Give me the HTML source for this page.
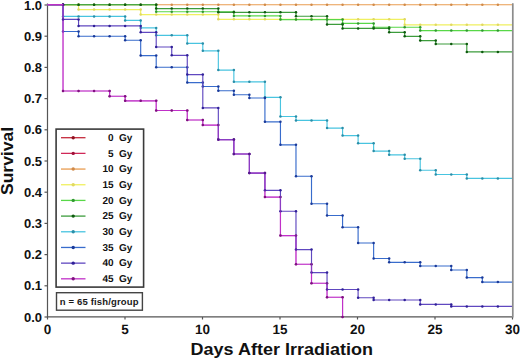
<!DOCTYPE html>
<html><head><meta charset="utf-8"><style>
html,body{margin:0;padding:0;background:#fff;}
body{width:520px;height:359px;overflow:hidden;}
svg{display:block;font-family:"Liberation Sans",sans-serif;font-weight:bold;}
</style></head><body>
<svg width="520" height="359" viewBox="0 0 520 359">
<rect width="520" height="359" fill="#fff"/>
<g stroke="#555" stroke-width="1.2" fill="none">
<line x1="47.5" y1="3.5" x2="47.5" y2="317"/>
<line x1="46.9" y1="316.9" x2="512.6" y2="316.9"/>
<line x1="44.5" y1="317.00" x2="47.5" y2="317.00"/><line x1="44.5" y1="285.80" x2="47.5" y2="285.80"/><line x1="44.5" y1="254.60" x2="47.5" y2="254.60"/><line x1="44.5" y1="223.40" x2="47.5" y2="223.40"/><line x1="44.5" y1="192.20" x2="47.5" y2="192.20"/><line x1="44.5" y1="161.00" x2="47.5" y2="161.00"/><line x1="44.5" y1="129.80" x2="47.5" y2="129.80"/><line x1="44.5" y1="98.60" x2="47.5" y2="98.60"/><line x1="44.5" y1="67.40" x2="47.5" y2="67.40"/><line x1="44.5" y1="36.20" x2="47.5" y2="36.20"/><line x1="44.5" y1="5.00" x2="47.5" y2="5.00"/>
<line x1="47.50" y1="317" x2="47.50" y2="319.5"/><line x1="125.00" y1="317" x2="125.00" y2="319.5"/><line x1="202.50" y1="317" x2="202.50" y2="319.5"/><line x1="280.00" y1="317" x2="280.00" y2="319.5"/><line x1="357.50" y1="317" x2="357.50" y2="319.5"/><line x1="435.00" y1="317" x2="435.00" y2="319.5"/><line x1="512.50" y1="317" x2="512.50" y2="319.5"/>
</g>
<defs><clipPath id="pc"><rect x="0" y="0" width="513" height="359"/></clipPath></defs>
<g clip-path="url(#pc)">
<path d="M47.50 4.70 L63.03 4.70 L78.56 4.70 L94.09 4.70 L109.62 4.70 L125.15 4.70 L140.68 4.70 L156.21 4.70 L171.74 4.70 L187.27 4.70 L202.80 4.70 L218.33 4.70 L233.86 4.70 L249.39 4.70 L264.92 4.70 L280.45 4.70 L295.98 4.70 L311.51 4.70 L327.04 4.70 L342.57 4.70 L358.10 4.70 L373.63 4.70 L389.16 4.70 L404.69 4.70 L420.22 4.70 L435.75 4.70 L451.28 4.70 L466.81 4.70 L482.34 4.70 L497.87 4.70 L513.40 4.70" fill="none" stroke="#e99c50" stroke-width="1.15"/>
<g fill="#d08a48"><circle cx="63.03" cy="4.70" r="1.25"/><circle cx="78.56" cy="4.70" r="1.25"/><circle cx="94.09" cy="4.70" r="1.25"/><circle cx="109.62" cy="4.70" r="1.25"/><circle cx="125.15" cy="4.70" r="1.25"/><circle cx="140.68" cy="4.70" r="1.25"/><circle cx="156.21" cy="4.70" r="1.25"/><circle cx="171.74" cy="4.70" r="1.25"/><circle cx="187.27" cy="4.70" r="1.25"/><circle cx="202.80" cy="4.70" r="1.25"/><circle cx="218.33" cy="4.70" r="1.25"/><circle cx="233.86" cy="4.70" r="1.25"/><circle cx="249.39" cy="4.70" r="1.25"/><circle cx="264.92" cy="4.70" r="1.25"/><circle cx="280.45" cy="4.70" r="1.25"/><circle cx="295.98" cy="4.70" r="1.25"/><circle cx="311.51" cy="4.70" r="1.25"/><circle cx="327.04" cy="4.70" r="1.25"/><circle cx="342.57" cy="4.70" r="1.25"/><circle cx="358.10" cy="4.70" r="1.25"/><circle cx="373.63" cy="4.70" r="1.25"/><circle cx="389.16" cy="4.70" r="1.25"/><circle cx="404.69" cy="4.70" r="1.25"/><circle cx="420.22" cy="4.70" r="1.25"/><circle cx="435.75" cy="4.70" r="1.25"/><circle cx="451.28" cy="4.70" r="1.25"/><circle cx="466.81" cy="4.70" r="1.25"/><circle cx="482.34" cy="4.70" r="1.25"/><circle cx="497.87" cy="4.70" r="1.25"/><circle cx="513.40" cy="4.70" r="1.25"/></g>
<path d="M47.50 4.70 L63.03 4.70 L78.56 4.70 L78.56 9.60 L94.09 9.60 L109.62 9.60 L125.15 9.60 L140.68 9.60 L140.68 14.60 L156.21 14.60 L171.74 14.60 L187.27 14.60 L202.80 14.60 L218.33 14.60 L218.33 19.30 L233.86 19.30 L249.39 19.30 L264.92 19.30 L280.45 19.30 L295.98 19.30 L311.51 19.30 L327.04 19.30 L342.57 19.30 L358.10 19.30 L373.63 19.30 L389.16 19.30 L404.69 19.30 L404.69 24.80 L420.22 24.80 L435.75 24.80 L451.28 24.80 L466.81 24.80 L482.34 24.80 L497.87 24.80 L513.40 24.80" fill="none" stroke="#f0f060" stroke-width="1.15"/>
<g fill="#e0d860"><circle cx="63.03" cy="4.70" r="1.25"/><circle cx="78.56" cy="4.70" r="1.25"/><circle cx="78.56" cy="9.60" r="1.25"/><circle cx="94.09" cy="9.60" r="1.25"/><circle cx="109.62" cy="9.60" r="1.25"/><circle cx="125.15" cy="9.60" r="1.25"/><circle cx="140.68" cy="9.60" r="1.25"/><circle cx="140.68" cy="14.60" r="1.25"/><circle cx="156.21" cy="14.60" r="1.25"/><circle cx="171.74" cy="14.60" r="1.25"/><circle cx="187.27" cy="14.60" r="1.25"/><circle cx="202.80" cy="14.60" r="1.25"/><circle cx="218.33" cy="14.60" r="1.25"/><circle cx="218.33" cy="19.30" r="1.25"/><circle cx="233.86" cy="19.30" r="1.25"/><circle cx="249.39" cy="19.30" r="1.25"/><circle cx="264.92" cy="19.30" r="1.25"/><circle cx="280.45" cy="19.30" r="1.25"/><circle cx="295.98" cy="19.30" r="1.25"/><circle cx="311.51" cy="19.30" r="1.25"/><circle cx="327.04" cy="19.30" r="1.25"/><circle cx="342.57" cy="19.30" r="1.25"/><circle cx="358.10" cy="19.30" r="1.25"/><circle cx="373.63" cy="19.30" r="1.25"/><circle cx="389.16" cy="19.30" r="1.25"/><circle cx="404.69" cy="19.30" r="1.25"/><circle cx="404.69" cy="24.80" r="1.25"/><circle cx="420.22" cy="24.80" r="1.25"/><circle cx="435.75" cy="24.80" r="1.25"/><circle cx="451.28" cy="24.80" r="1.25"/><circle cx="466.81" cy="24.80" r="1.25"/><circle cx="482.34" cy="24.80" r="1.25"/><circle cx="497.87" cy="24.80" r="1.25"/><circle cx="513.40" cy="24.80" r="1.25"/></g>
<path d="M47.50 4.70 L63.03 4.70 L78.56 4.70 L94.09 4.70 L109.62 4.70 L125.15 4.70 L140.68 4.70 L156.21 4.70 L156.21 11.70 L171.74 11.70 L187.27 11.70 L202.80 11.70 L218.33 11.70 L233.86 11.70 L233.86 15.90 L249.39 15.90 L264.92 15.90 L280.45 15.90 L280.45 19.60 L295.98 19.60 L311.51 19.60 L327.04 19.60 L342.57 19.60 L342.57 23.40 L358.10 23.40 L373.63 23.40 L373.63 27.20 L389.16 27.20 L404.69 27.20 L420.22 27.20 L420.22 30.60 L435.75 30.60 L451.28 30.60 L466.81 30.60 L482.34 30.60 L497.87 30.60 L513.40 30.60" fill="none" stroke="#58d848" stroke-width="1.15"/>
<g fill="#309830"><circle cx="63.03" cy="4.70" r="1.25"/><circle cx="78.56" cy="4.70" r="1.25"/><circle cx="94.09" cy="4.70" r="1.25"/><circle cx="109.62" cy="4.70" r="1.25"/><circle cx="125.15" cy="4.70" r="1.25"/><circle cx="140.68" cy="4.70" r="1.25"/><circle cx="156.21" cy="4.70" r="1.25"/><circle cx="156.21" cy="11.70" r="1.25"/><circle cx="171.74" cy="11.70" r="1.25"/><circle cx="187.27" cy="11.70" r="1.25"/><circle cx="202.80" cy="11.70" r="1.25"/><circle cx="218.33" cy="11.70" r="1.25"/><circle cx="233.86" cy="11.70" r="1.25"/><circle cx="233.86" cy="15.90" r="1.25"/><circle cx="249.39" cy="15.90" r="1.25"/><circle cx="264.92" cy="15.90" r="1.25"/><circle cx="280.45" cy="15.90" r="1.25"/><circle cx="280.45" cy="19.60" r="1.25"/><circle cx="295.98" cy="19.60" r="1.25"/><circle cx="311.51" cy="19.60" r="1.25"/><circle cx="327.04" cy="19.60" r="1.25"/><circle cx="342.57" cy="19.60" r="1.25"/><circle cx="342.57" cy="23.40" r="1.25"/><circle cx="358.10" cy="23.40" r="1.25"/><circle cx="373.63" cy="23.40" r="1.25"/><circle cx="373.63" cy="27.20" r="1.25"/><circle cx="389.16" cy="27.20" r="1.25"/><circle cx="404.69" cy="27.20" r="1.25"/><circle cx="420.22" cy="27.20" r="1.25"/><circle cx="420.22" cy="30.60" r="1.25"/><circle cx="435.75" cy="30.60" r="1.25"/><circle cx="451.28" cy="30.60" r="1.25"/><circle cx="466.81" cy="30.60" r="1.25"/><circle cx="482.34" cy="30.60" r="1.25"/><circle cx="497.87" cy="30.60" r="1.25"/><circle cx="513.40" cy="30.60" r="1.25"/></g>
<path d="M47.50 4.70 L63.03 4.70 L78.56 4.70 L94.09 4.70 L109.62 4.70 L125.15 4.70 L140.68 4.70 L156.21 4.70 L156.21 8.60 L171.74 8.60 L187.27 8.60 L202.80 8.60 L218.33 8.60 L218.33 12.30 L233.86 12.30 L249.39 12.30 L264.92 12.30 L280.45 12.30 L295.98 12.30 L295.98 16.20 L311.51 16.20 L327.04 16.20 L327.04 24.40 L342.57 24.40 L342.57 28.40 L358.10 28.40 L373.63 28.40 L389.16 28.40 L389.16 32.30 L404.69 32.30 L404.69 36.30 L420.22 36.30 L420.22 40.60 L435.75 40.60 L435.75 44.00 L451.28 44.00 L466.81 44.00 L466.81 51.90 L482.34 51.90 L497.87 51.90 L513.40 51.90" fill="none" stroke="#3c9c3c" stroke-width="1.15"/>
<g fill="#0e5a0e"><circle cx="63.03" cy="4.70" r="1.25"/><circle cx="78.56" cy="4.70" r="1.25"/><circle cx="94.09" cy="4.70" r="1.25"/><circle cx="109.62" cy="4.70" r="1.25"/><circle cx="125.15" cy="4.70" r="1.25"/><circle cx="140.68" cy="4.70" r="1.25"/><circle cx="156.21" cy="4.70" r="1.25"/><circle cx="156.21" cy="8.60" r="1.25"/><circle cx="171.74" cy="8.60" r="1.25"/><circle cx="187.27" cy="8.60" r="1.25"/><circle cx="202.80" cy="8.60" r="1.25"/><circle cx="218.33" cy="8.60" r="1.25"/><circle cx="218.33" cy="12.30" r="1.25"/><circle cx="233.86" cy="12.30" r="1.25"/><circle cx="249.39" cy="12.30" r="1.25"/><circle cx="264.92" cy="12.30" r="1.25"/><circle cx="280.45" cy="12.30" r="1.25"/><circle cx="295.98" cy="12.30" r="1.25"/><circle cx="295.98" cy="16.20" r="1.25"/><circle cx="311.51" cy="16.20" r="1.25"/><circle cx="327.04" cy="16.20" r="1.25"/><circle cx="327.04" cy="24.40" r="1.25"/><circle cx="342.57" cy="24.40" r="1.25"/><circle cx="342.57" cy="28.40" r="1.25"/><circle cx="358.10" cy="28.40" r="1.25"/><circle cx="373.63" cy="28.40" r="1.25"/><circle cx="389.16" cy="28.40" r="1.25"/><circle cx="389.16" cy="32.30" r="1.25"/><circle cx="404.69" cy="32.30" r="1.25"/><circle cx="404.69" cy="36.30" r="1.25"/><circle cx="420.22" cy="36.30" r="1.25"/><circle cx="420.22" cy="40.60" r="1.25"/><circle cx="435.75" cy="40.60" r="1.25"/><circle cx="435.75" cy="44.00" r="1.25"/><circle cx="451.28" cy="44.00" r="1.25"/><circle cx="466.81" cy="44.00" r="1.25"/><circle cx="466.81" cy="51.90" r="1.25"/><circle cx="482.34" cy="51.90" r="1.25"/><circle cx="497.87" cy="51.90" r="1.25"/><circle cx="513.40" cy="51.90" r="1.25"/></g>
<path d="M47.50 4.70 L63.03 4.70 L63.03 16.40 L78.56 16.40 L94.09 16.40 L109.62 16.40 L125.15 16.40 L125.15 20.40 L140.68 20.40 L140.68 27.90 L156.21 27.90 L156.21 35.30 L171.74 35.30 L187.27 35.30 L187.27 43.40 L202.80 43.40 L202.80 50.80 L218.33 50.80 L218.33 70.10 L233.86 70.10 L233.86 81.80 L249.39 81.80 L264.92 81.80 L264.92 97.30 L280.45 97.30 L280.45 116.50 L295.98 116.50 L295.98 120.40 L311.51 120.40 L327.04 120.40 L327.04 128.10 L342.57 128.10 L342.57 135.60 L358.10 135.60 L358.10 143.30 L373.63 143.30 L373.63 151.10 L389.16 151.10 L389.16 154.80 L404.69 154.80 L404.69 158.70 L420.22 158.70 L420.22 170.20 L435.75 170.20 L435.75 174.50 L451.28 174.50 L466.81 174.50 L466.81 178.40 L482.34 178.40 L497.87 178.40 L513.40 178.40" fill="none" stroke="#48c4e0" stroke-width="1.15"/>
<g fill="#2a8ea8"><circle cx="63.03" cy="4.70" r="1.25"/><circle cx="63.03" cy="16.40" r="1.25"/><circle cx="78.56" cy="16.40" r="1.25"/><circle cx="94.09" cy="16.40" r="1.25"/><circle cx="109.62" cy="16.40" r="1.25"/><circle cx="125.15" cy="16.40" r="1.25"/><circle cx="125.15" cy="20.40" r="1.25"/><circle cx="140.68" cy="20.40" r="1.25"/><circle cx="140.68" cy="27.90" r="1.25"/><circle cx="156.21" cy="27.90" r="1.25"/><circle cx="156.21" cy="35.30" r="1.25"/><circle cx="171.74" cy="35.30" r="1.25"/><circle cx="187.27" cy="35.30" r="1.25"/><circle cx="187.27" cy="43.40" r="1.25"/><circle cx="202.80" cy="43.40" r="1.25"/><circle cx="202.80" cy="50.80" r="1.25"/><circle cx="218.33" cy="50.80" r="1.25"/><circle cx="218.33" cy="70.10" r="1.25"/><circle cx="233.86" cy="70.10" r="1.25"/><circle cx="233.86" cy="81.80" r="1.25"/><circle cx="249.39" cy="81.80" r="1.25"/><circle cx="264.92" cy="81.80" r="1.25"/><circle cx="264.92" cy="97.30" r="1.25"/><circle cx="280.45" cy="97.30" r="1.25"/><circle cx="280.45" cy="116.50" r="1.25"/><circle cx="295.98" cy="116.50" r="1.25"/><circle cx="295.98" cy="120.40" r="1.25"/><circle cx="311.51" cy="120.40" r="1.25"/><circle cx="327.04" cy="120.40" r="1.25"/><circle cx="327.04" cy="128.10" r="1.25"/><circle cx="342.57" cy="128.10" r="1.25"/><circle cx="342.57" cy="135.60" r="1.25"/><circle cx="358.10" cy="135.60" r="1.25"/><circle cx="358.10" cy="143.30" r="1.25"/><circle cx="373.63" cy="143.30" r="1.25"/><circle cx="373.63" cy="151.10" r="1.25"/><circle cx="389.16" cy="151.10" r="1.25"/><circle cx="389.16" cy="154.80" r="1.25"/><circle cx="404.69" cy="154.80" r="1.25"/><circle cx="404.69" cy="158.70" r="1.25"/><circle cx="420.22" cy="158.70" r="1.25"/><circle cx="420.22" cy="170.20" r="1.25"/><circle cx="435.75" cy="170.20" r="1.25"/><circle cx="435.75" cy="174.50" r="1.25"/><circle cx="451.28" cy="174.50" r="1.25"/><circle cx="466.81" cy="174.50" r="1.25"/><circle cx="466.81" cy="178.40" r="1.25"/><circle cx="482.34" cy="178.40" r="1.25"/><circle cx="497.87" cy="178.40" r="1.25"/><circle cx="513.40" cy="178.40" r="1.25"/></g>
<path d="M47.50 4.70 L63.03 4.70 L63.03 31.50 L78.56 31.50 L78.56 36.20 L94.09 36.20 L109.62 36.20 L125.15 36.20 L125.15 40.20 L140.68 40.20 L140.68 55.60 L156.21 55.60 L156.21 67.20 L171.74 67.20 L187.27 67.20 L187.27 82.60 L202.80 82.60 L202.80 86.50 L218.33 86.50 L218.33 90.70 L233.86 90.70 L233.86 94.70 L249.39 94.70 L249.39 98.00 L264.92 98.00 L264.92 121.80 L280.45 121.80 L280.45 144.80 L295.98 144.80 L295.98 176.20 L311.51 176.20 L311.51 203.70 L327.04 203.70 L327.04 215.50 L342.57 215.50 L342.57 227.20 L358.10 227.20 L358.10 243.00 L373.63 243.00 L373.63 258.50 L389.16 258.50 L389.16 262.30 L404.69 262.30 L420.22 262.30 L420.22 266.00 L435.75 266.00 L451.28 266.00 L451.28 270.00 L466.81 270.00 L466.81 277.60 L482.34 277.60 L482.34 282.10 L497.87 282.10 L513.40 282.10" fill="none" stroke="#386ccc" stroke-width="1.15"/>
<g fill="#1a3a9a"><circle cx="63.03" cy="4.70" r="1.25"/><circle cx="63.03" cy="31.50" r="1.25"/><circle cx="78.56" cy="31.50" r="1.25"/><circle cx="78.56" cy="36.20" r="1.25"/><circle cx="94.09" cy="36.20" r="1.25"/><circle cx="109.62" cy="36.20" r="1.25"/><circle cx="125.15" cy="36.20" r="1.25"/><circle cx="125.15" cy="40.20" r="1.25"/><circle cx="140.68" cy="40.20" r="1.25"/><circle cx="140.68" cy="55.60" r="1.25"/><circle cx="156.21" cy="55.60" r="1.25"/><circle cx="156.21" cy="67.20" r="1.25"/><circle cx="171.74" cy="67.20" r="1.25"/><circle cx="187.27" cy="67.20" r="1.25"/><circle cx="187.27" cy="82.60" r="1.25"/><circle cx="202.80" cy="82.60" r="1.25"/><circle cx="202.80" cy="86.50" r="1.25"/><circle cx="218.33" cy="86.50" r="1.25"/><circle cx="218.33" cy="90.70" r="1.25"/><circle cx="233.86" cy="90.70" r="1.25"/><circle cx="233.86" cy="94.70" r="1.25"/><circle cx="249.39" cy="94.70" r="1.25"/><circle cx="249.39" cy="98.00" r="1.25"/><circle cx="264.92" cy="98.00" r="1.25"/><circle cx="264.92" cy="121.80" r="1.25"/><circle cx="280.45" cy="121.80" r="1.25"/><circle cx="280.45" cy="144.80" r="1.25"/><circle cx="295.98" cy="144.80" r="1.25"/><circle cx="295.98" cy="176.20" r="1.25"/><circle cx="311.51" cy="176.20" r="1.25"/><circle cx="311.51" cy="203.70" r="1.25"/><circle cx="327.04" cy="203.70" r="1.25"/><circle cx="327.04" cy="215.50" r="1.25"/><circle cx="342.57" cy="215.50" r="1.25"/><circle cx="342.57" cy="227.20" r="1.25"/><circle cx="358.10" cy="227.20" r="1.25"/><circle cx="358.10" cy="243.00" r="1.25"/><circle cx="373.63" cy="243.00" r="1.25"/><circle cx="373.63" cy="258.50" r="1.25"/><circle cx="389.16" cy="258.50" r="1.25"/><circle cx="389.16" cy="262.30" r="1.25"/><circle cx="404.69" cy="262.30" r="1.25"/><circle cx="420.22" cy="262.30" r="1.25"/><circle cx="420.22" cy="266.00" r="1.25"/><circle cx="435.75" cy="266.00" r="1.25"/><circle cx="451.28" cy="266.00" r="1.25"/><circle cx="451.28" cy="270.00" r="1.25"/><circle cx="466.81" cy="270.00" r="1.25"/><circle cx="466.81" cy="277.60" r="1.25"/><circle cx="482.34" cy="277.60" r="1.25"/><circle cx="482.34" cy="282.10" r="1.25"/><circle cx="497.87" cy="282.10" r="1.25"/><circle cx="513.40" cy="282.10" r="1.25"/></g>
<path d="M47.50 4.70 L63.03 4.70 L63.03 91.00 L78.56 91.00 L94.09 91.00 L109.62 91.00 L109.62 96.20 L125.15 96.20 L125.15 100.80 L140.68 100.80 L156.21 100.80 L156.21 110.50 L171.74 110.50 L187.27 110.50 L187.27 120.00 L202.80 120.00 L202.80 125.10 L218.33 125.10 L218.33 139.60 L233.86 139.60 L233.86 154.00 L249.39 154.00 L249.39 173.10 L264.92 173.10 L264.92 197.10 L280.45 197.10 L280.45 235.60 L295.98 235.60 L295.98 264.20 L311.51 264.20 L311.51 283.20 L327.04 283.20 L327.04 297.20 L342.57 297.20 L342.57 317.00" fill="none" stroke="#c030c8" stroke-width="1.15"/>
<g fill="#801080"><circle cx="63.03" cy="4.70" r="1.25"/><circle cx="63.03" cy="91.00" r="1.25"/><circle cx="78.56" cy="91.00" r="1.25"/><circle cx="94.09" cy="91.00" r="1.25"/><circle cx="109.62" cy="91.00" r="1.25"/><circle cx="109.62" cy="96.20" r="1.25"/><circle cx="125.15" cy="96.20" r="1.25"/><circle cx="125.15" cy="100.80" r="1.25"/><circle cx="140.68" cy="100.80" r="1.25"/><circle cx="156.21" cy="100.80" r="1.25"/><circle cx="156.21" cy="110.50" r="1.25"/><circle cx="171.74" cy="110.50" r="1.25"/><circle cx="187.27" cy="110.50" r="1.25"/><circle cx="187.27" cy="120.00" r="1.25"/><circle cx="202.80" cy="120.00" r="1.25"/><circle cx="202.80" cy="125.10" r="1.25"/><circle cx="218.33" cy="125.10" r="1.25"/><circle cx="218.33" cy="139.60" r="1.25"/><circle cx="233.86" cy="139.60" r="1.25"/><circle cx="233.86" cy="154.00" r="1.25"/><circle cx="249.39" cy="154.00" r="1.25"/><circle cx="249.39" cy="173.10" r="1.25"/><circle cx="264.92" cy="173.10" r="1.25"/><circle cx="264.92" cy="197.10" r="1.25"/><circle cx="280.45" cy="197.10" r="1.25"/><circle cx="280.45" cy="235.60" r="1.25"/><circle cx="295.98" cy="235.60" r="1.25"/><circle cx="295.98" cy="264.20" r="1.25"/><circle cx="311.51" cy="264.20" r="1.25"/><circle cx="311.51" cy="283.20" r="1.25"/><circle cx="327.04" cy="283.20" r="1.25"/><circle cx="327.04" cy="297.20" r="1.25"/><circle cx="342.57" cy="297.20" r="1.25"/><circle cx="342.57" cy="317.00" r="1.25"/></g>
<path d="M47.50 4.70 L63.03 4.70 L63.03 19.40 L78.56 19.40 L78.56 25.90 L94.09 25.90 L109.62 25.90 L125.15 25.90 L140.68 25.90 L140.68 32.30 L156.21 32.30 L156.21 47.00 L171.74 47.00 L171.74 55.30 L187.27 55.30 L187.27 74.60 L202.80 74.60 L202.80 107.90 L218.33 107.90 L218.33 139.60 L233.86 139.60 L233.86 154.00 L249.39 154.00 L249.39 173.10 L264.92 173.10 L264.92 190.30 L280.45 190.30 L280.45 211.20 L295.98 211.20 L295.98 249.60 L311.51 249.60 L311.51 272.60 L327.04 272.60 L327.04 289.50 L342.57 289.50 L358.10 289.50 L358.10 297.70 L373.63 297.70 L373.63 300.00 L389.16 300.00 L404.69 300.00 L420.22 300.00 L420.22 304.40 L435.75 304.40 L451.28 304.40 L451.28 306.40 L466.81 306.40 L482.34 306.40 L497.87 306.40 L513.40 306.40" fill="none" stroke="#6048c0" stroke-width="1.15"/>
<g fill="#302098"><circle cx="63.03" cy="4.70" r="1.25"/><circle cx="63.03" cy="19.40" r="1.25"/><circle cx="78.56" cy="19.40" r="1.25"/><circle cx="78.56" cy="25.90" r="1.25"/><circle cx="94.09" cy="25.90" r="1.25"/><circle cx="109.62" cy="25.90" r="1.25"/><circle cx="125.15" cy="25.90" r="1.25"/><circle cx="140.68" cy="25.90" r="1.25"/><circle cx="140.68" cy="32.30" r="1.25"/><circle cx="156.21" cy="32.30" r="1.25"/><circle cx="156.21" cy="47.00" r="1.25"/><circle cx="171.74" cy="47.00" r="1.25"/><circle cx="171.74" cy="55.30" r="1.25"/><circle cx="187.27" cy="55.30" r="1.25"/><circle cx="187.27" cy="74.60" r="1.25"/><circle cx="202.80" cy="74.60" r="1.25"/><circle cx="202.80" cy="107.90" r="1.25"/><circle cx="218.33" cy="107.90" r="1.25"/><circle cx="218.33" cy="139.60" r="1.25"/><circle cx="233.86" cy="139.60" r="1.25"/><circle cx="233.86" cy="154.00" r="1.25"/><circle cx="249.39" cy="154.00" r="1.25"/><circle cx="249.39" cy="173.10" r="1.25"/><circle cx="264.92" cy="173.10" r="1.25"/><circle cx="264.92" cy="190.30" r="1.25"/><circle cx="280.45" cy="190.30" r="1.25"/><circle cx="280.45" cy="211.20" r="1.25"/><circle cx="295.98" cy="211.20" r="1.25"/><circle cx="295.98" cy="249.60" r="1.25"/><circle cx="311.51" cy="249.60" r="1.25"/><circle cx="311.51" cy="272.60" r="1.25"/><circle cx="327.04" cy="272.60" r="1.25"/><circle cx="327.04" cy="289.50" r="1.25"/><circle cx="342.57" cy="289.50" r="1.25"/><circle cx="358.10" cy="289.50" r="1.25"/><circle cx="358.10" cy="297.70" r="1.25"/><circle cx="373.63" cy="297.70" r="1.25"/><circle cx="373.63" cy="300.00" r="1.25"/><circle cx="389.16" cy="300.00" r="1.25"/><circle cx="404.69" cy="300.00" r="1.25"/><circle cx="420.22" cy="300.00" r="1.25"/><circle cx="420.22" cy="304.40" r="1.25"/><circle cx="435.75" cy="304.40" r="1.25"/><circle cx="451.28" cy="304.40" r="1.25"/><circle cx="451.28" cy="306.40" r="1.25"/><circle cx="466.81" cy="306.40" r="1.25"/><circle cx="482.34" cy="306.40" r="1.25"/><circle cx="497.87" cy="306.40" r="1.25"/><circle cx="513.40" cy="306.40" r="1.25"/></g>
<g opacity="0.45"><path d="M47.50 4.70 L63.03 4.70 L63.03 91.00 L78.56 91.00 L94.09 91.00 L109.62 91.00 L109.62 96.20 L125.15 96.20 L125.15 100.80 L140.68 100.80 L156.21 100.80 L156.21 110.50 L171.74 110.50 L187.27 110.50 L187.27 120.00 L202.80 120.00 L202.80 125.10 L218.33 125.10 L218.33 139.60 L233.86 139.60 L233.86 154.00 L249.39 154.00 L249.39 173.10 L264.92 173.10 L264.92 197.10 L280.45 197.10 L280.45 235.60 L295.98 235.60 L295.98 264.20 L311.51 264.20 L311.51 283.20 L327.04 283.20 L327.04 297.20 L342.57 297.20 L342.57 317.00" fill="none" stroke="#c030c8" stroke-width="1.15"/>
<g fill="#801080"><circle cx="63.03" cy="4.70" r="1.25"/><circle cx="63.03" cy="91.00" r="1.25"/><circle cx="78.56" cy="91.00" r="1.25"/><circle cx="94.09" cy="91.00" r="1.25"/><circle cx="109.62" cy="91.00" r="1.25"/><circle cx="109.62" cy="96.20" r="1.25"/><circle cx="125.15" cy="96.20" r="1.25"/><circle cx="125.15" cy="100.80" r="1.25"/><circle cx="140.68" cy="100.80" r="1.25"/><circle cx="156.21" cy="100.80" r="1.25"/><circle cx="156.21" cy="110.50" r="1.25"/><circle cx="171.74" cy="110.50" r="1.25"/><circle cx="187.27" cy="110.50" r="1.25"/><circle cx="187.27" cy="120.00" r="1.25"/><circle cx="202.80" cy="120.00" r="1.25"/><circle cx="202.80" cy="125.10" r="1.25"/><circle cx="218.33" cy="125.10" r="1.25"/><circle cx="218.33" cy="139.60" r="1.25"/><circle cx="233.86" cy="139.60" r="1.25"/><circle cx="233.86" cy="154.00" r="1.25"/><circle cx="249.39" cy="154.00" r="1.25"/><circle cx="249.39" cy="173.10" r="1.25"/><circle cx="264.92" cy="173.10" r="1.25"/><circle cx="264.92" cy="197.10" r="1.25"/><circle cx="280.45" cy="197.10" r="1.25"/><circle cx="280.45" cy="235.60" r="1.25"/><circle cx="295.98" cy="235.60" r="1.25"/><circle cx="295.98" cy="264.20" r="1.25"/><circle cx="311.51" cy="264.20" r="1.25"/><circle cx="311.51" cy="283.20" r="1.25"/><circle cx="327.04" cy="283.20" r="1.25"/><circle cx="327.04" cy="297.20" r="1.25"/><circle cx="342.57" cy="297.20" r="1.25"/><circle cx="342.57" cy="317.00" r="1.25"/></g>
</g>
<path d="M47.5 4.7 L63.03 4.7" stroke="#c030c8" stroke-width="1.3" fill="none"/>
</g>
<line x1="512.8" y1="3.3" x2="512.8" y2="317.6" stroke="#8c8c8c" stroke-width="1.7"/>
<g font-size="13" fill="#111">
<text x="42" y="321.60" text-anchor="end">0.0</text><text x="42" y="290.40" text-anchor="end">0.1</text><text x="42" y="259.20" text-anchor="end">0.2</text><text x="42" y="228.00" text-anchor="end">0.3</text><text x="42" y="196.80" text-anchor="end">0.4</text><text x="42" y="165.60" text-anchor="end">0.5</text><text x="42" y="134.40" text-anchor="end">0.6</text><text x="42" y="103.20" text-anchor="end">0.7</text><text x="42" y="72.00" text-anchor="end">0.8</text><text x="42" y="40.80" text-anchor="end">0.9</text><text x="42" y="9.60" text-anchor="end">1.0</text>
</g>
<g font-size="13.5" fill="#111" text-rendering="geometricPrecision">
<text x="47.50" y="333.8" text-anchor="middle">0</text><text x="125.00" y="333.8" text-anchor="middle">5</text><text x="202.50" y="333.8" text-anchor="middle">10</text><text x="280.00" y="333.8" text-anchor="middle">15</text><text x="357.50" y="333.8" text-anchor="middle">20</text><text x="435.00" y="333.8" text-anchor="middle">25</text><text x="512.50" y="333.8" text-anchor="middle">30</text>
</g>
<text transform="translate(281.8,354.9) scale(1.06,1)" x="0" y="0" font-size="17" text-anchor="middle" fill="#111">Days After Irradiation</text>
<text transform="translate(13.1,161) rotate(-90) scale(1.03,0.95)" font-size="17" text-anchor="middle" fill="#111">Survival</text>
<rect x="56.1" y="129.1" width="87.5" height="158" fill="#fff" stroke="#3a3a3a" stroke-width="1.6"/>
<g font-size="10" fill="#111" text-rendering="geometricPrecision">
<line x1="61" y1="137.70" x2="85.5" y2="137.70" stroke="#c42a3c" stroke-width="1.3"/><circle cx="73.2" cy="137.70" r="1.7" fill="#901020"/><text x="113.6" y="141.00" text-anchor="end">0</text><text x="119.1" y="141.00">Gy</text><line x1="61" y1="153.38" x2="85.5" y2="153.38" stroke="#d02858" stroke-width="1.3"/><circle cx="73.2" cy="153.38" r="1.7" fill="#a01038"/><text x="113.6" y="156.68" text-anchor="end">5</text><text x="119.1" y="156.68">Gy</text><line x1="61" y1="169.06" x2="85.5" y2="169.06" stroke="#e99c50" stroke-width="1.3"/><circle cx="73.2" cy="169.06" r="1.7" fill="#d08a48"/><text x="113.6" y="172.36" text-anchor="end">10</text><text x="119.1" y="172.36">Gy</text><line x1="61" y1="184.74" x2="85.5" y2="184.74" stroke="#f0f060" stroke-width="1.3"/><circle cx="73.2" cy="184.74" r="1.7" fill="#e0d860"/><text x="113.6" y="188.04" text-anchor="end">15</text><text x="119.1" y="188.04">Gy</text><line x1="61" y1="200.42" x2="85.5" y2="200.42" stroke="#58d848" stroke-width="1.3"/><circle cx="73.2" cy="200.42" r="1.7" fill="#309830"/><text x="113.6" y="203.72" text-anchor="end">20</text><text x="119.1" y="203.72">Gy</text><line x1="61" y1="216.10" x2="85.5" y2="216.10" stroke="#3c9c3c" stroke-width="1.3"/><circle cx="73.2" cy="216.10" r="1.7" fill="#0e5a0e"/><text x="113.6" y="219.40" text-anchor="end">25</text><text x="119.1" y="219.40">Gy</text><line x1="61" y1="231.78" x2="85.5" y2="231.78" stroke="#48c4e0" stroke-width="1.3"/><circle cx="73.2" cy="231.78" r="1.7" fill="#2a8ea8"/><text x="113.6" y="235.08" text-anchor="end">30</text><text x="119.1" y="235.08">Gy</text><line x1="61" y1="247.46" x2="85.5" y2="247.46" stroke="#386ccc" stroke-width="1.3"/><circle cx="73.2" cy="247.46" r="1.7" fill="#1a3a9a"/><text x="113.6" y="250.76" text-anchor="end">35</text><text x="119.1" y="250.76">Gy</text><line x1="61" y1="263.14" x2="85.5" y2="263.14" stroke="#6048c0" stroke-width="1.3"/><circle cx="73.2" cy="263.14" r="1.7" fill="#302098"/><text x="113.6" y="266.44" text-anchor="end">40</text><text x="119.1" y="266.44">Gy</text><line x1="61" y1="278.82" x2="85.5" y2="278.82" stroke="#c030c8" stroke-width="1.3"/><circle cx="73.2" cy="278.82" r="1.7" fill="#801080"/><text x="113.6" y="282.12" text-anchor="end">45</text><text x="119.1" y="282.12">Gy</text>
</g>
<rect x="56.5" y="292.7" width="85.9" height="17.5" fill="#fff" stroke="#444" stroke-width="1.4"/>
<text x="59.8" y="305.1" font-size="9.5" fill="#1a1a1a" letter-spacing="0.15">n = 65 fish/group</text>
</svg>
</body></html>
